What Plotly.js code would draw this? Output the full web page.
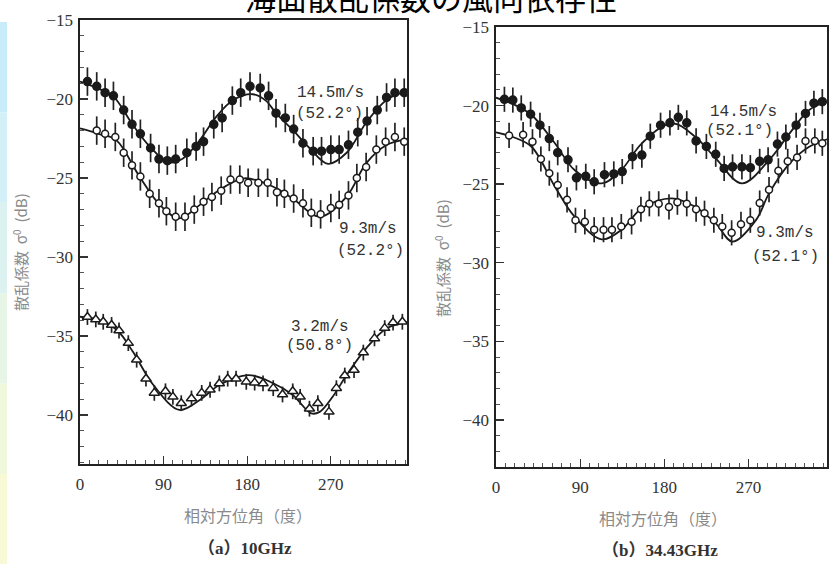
<!DOCTYPE html>
<html>
<head>
<meta charset="utf-8">
<script src="https://cdn.plot.ly/plotly-3.0.1.min.js"></script>
<style>html,body{margin:0;padding:0;background:#fff;}#chart{width:830px;height:564px;}</style>
</head>
<body>
<div id="chart"></div>
<script>
// ---------- data ----------
const chartTitle = "海面散乱係数の風向依存性";
const xTickVals = [0, 90, 180, 270];
const yTickVals = [-40, -35, -30, -25, -20, -15];

// (a) 10GHz
const a145Ang = [8,18,27,36,47,56,65,76,85,94,103,115,125,133,144,153,164,173,183,194,203,211,221,230,240,251,260,270,279,289,299,309,320,330,339,349];
const a145Val = [-18.9,-19.2,-19.6,-19.8,-20.7,-21.6,-22.2,-23.1,-23.8,-23.9,-23.8,-23.4,-23.0,-22.7,-21.6,-21.2,-20.1,-19.6,-19.2,-19.3,-19.8,-20.9,-21.2,-21.9,-22.8,-23.3,-23.3,-23.2,-23.2,-22.9,-22.1,-21.4,-20.7,-19.9,-19.6,-19.6];
const a145FitAng = [0,18,36,57,75,95,110,129,147,165,186,200,211,229,247,267,287,308,330,351,360];
const a145FitVal = [-18.9,-19.3,-19.85,-21.65,-23.0,-24.0,-23.8,-22.6,-21.1,-20.06,-19.7,-20.1,-20.9,-21.96,-23.1,-24.1,-23.4,-21.5,-20.06,-19.54,-19.5];

const a93Ang = [18,27,38,47,56,65,75,85,93,103,113,123,133,142,152,162,172,181,192,202,212,220,230,240,249,259,270,279,289,298,308,319,329,339,349,358];
const a93Val = [-22.0,-22.2,-22.4,-23.4,-24.2,-24.9,-26.0,-26.6,-27.1,-27.45,-27.45,-27.0,-26.5,-26.2,-25.8,-25.1,-25.1,-25.3,-25.3,-25.3,-25.9,-26.0,-26.3,-26.6,-27.2,-27.3,-26.9,-26.7,-26.1,-25.0,-24.3,-23.2,-22.7,-22.4,-22.7,-22.6];
const a93FitAng = [0,20,39,64,86,107,129,150,177,208,229,258,287,308,330,351,360];
const a93FitVal = [-21.86,-22.2,-22.6,-24.9,-26.7,-27.55,-26.7,-25.76,-25.02,-25.55,-26.29,-27.45,-26.18,-24.07,-22.91,-22.55,-22.5];

const a32Ang = [8,17,25,34,42,52,61,71,80,92,100,109,120,131,140,150,159,168,179,188,197,208,218,229,237,247,256,268,276,285,295,305,317,328,337,347,358];
const a32Val = [-33.8,-33.95,-34.1,-34.3,-34.65,-35.45,-36.5,-37.7,-38.6,-38.5,-38.85,-39.25,-38.95,-38.6,-38.4,-38.0,-37.7,-37.7,-37.9,-37.95,-38.0,-38.3,-38.7,-38.5,-38.85,-39.6,-39.25,-39.8,-38.3,-37.5,-37.15,-36.05,-35.15,-34.5,-34.15,-34.1,-34.1];
const a32FitAng = [0,21,41,57,79,107,129,150,181,208,229,249,258,272,287,308,330,355,360];
const a32FitVal = [-33.78,-34.0,-34.7,-36.0,-38.1,-39.68,-39.05,-38.1,-37.47,-37.99,-38.73,-39.9,-39.8,-38.84,-37.47,-35.78,-34.52,-34.09,-34.05];

// (b) 34.43GHz
const b145Ang = [9,18,27,37,47,57,66,77,86,96,105,116,126,135,146,156,165,176,186,195,204,214,225,235,244,253,263,272,282,291,301,310,321,331,340,349];
const b145Val = [-19.6,-19.65,-20.15,-20.55,-21.25,-22.1,-23.0,-23.45,-24.6,-24.5,-24.85,-24.4,-24.35,-24.2,-23.25,-23.15,-21.95,-21.25,-21.1,-20.75,-21.1,-22.25,-22.6,-23.1,-24.0,-23.9,-23.9,-23.95,-23.55,-23.45,-22.45,-22.0,-21.25,-20.5,-19.85,-19.75];
const b145FitAng = [0,18,38,63,84,113,134,156,188,213,235,263,292,314,335,358];
const b145FitVal = [-19.5,-19.9,-20.6,-22.4,-24.1,-24.95,-24.1,-22.4,-21.13,-21.98,-23.36,-24.95,-23.47,-21.77,-20.28,-19.65];

const b93Ang = [14,29,39,48,57,66,76,85,95,105,115,124,134,145,155,164,174,185,194,204,214,223,233,242,252,262,272,282,292,302,312,322,331,341,349,358];
const b93Val = [-21.9,-21.85,-22.3,-23.4,-24.3,-25.05,-26.0,-27.3,-27.4,-27.9,-27.9,-27.9,-27.7,-27.4,-26.6,-26.25,-26.25,-26.45,-26.15,-26.25,-26.6,-26.85,-27.3,-27.7,-28.1,-27.55,-27.3,-26.2,-25.35,-24.15,-23.55,-23.3,-22.25,-22.25,-22.4,-22.25];
const b93FitAng = [0,18,38,63,84,113,134,156,188,213,235,253,278,292,314,335,358];
const b93FitVal = [-21.7,-22.0,-22.62,-25.16,-27.07,-28.51,-27.92,-26.54,-25.9,-26.44,-27.5,-28.66,-27.29,-25.59,-23.68,-22.62,-22.08];

const errBig = 0.9, errMid = 0.8, errSmall = 0.5;

// ---------- helpers ----------
const W = 830, H = 564;
const px = x => x / W;
const py = y => 1 - y / H;
const INK = '#1a1a1a';

function pts(x, y, xa, ya, sym, fill, size, err) {
  return {
    type: 'scatter', mode: 'markers', x: x, y: y, xaxis: xa, yaxis: ya,
    cliponaxis: false, showlegend: false,
    marker: { symbol: sym, size: size, color: fill, line: { color: INK, width: 1.5 } },
    error_y: { type: 'constant', value: err, color: '#222', thickness: 1.7, width: 0 }
  };
}
function fit(x, y, xa, ya) {
  return {
    type: 'scatter', mode: 'lines', x: x, y: y, xaxis: xa, yaxis: ya,
    showlegend: false, line: { color: INK, width: 1.8, shape: 'spline', smoothing: 1 }
  };
}

const traces = [
  fit(a145FitAng, a145FitVal, 'x', 'y'),
  fit(a93FitAng, a93FitVal, 'x', 'y'),
  fit(a32FitAng, a32FitVal, 'x', 'y'),
  pts(a145Ang, a145Val, 'x', 'y', 'circle', INK, 8, errBig),
  pts(a93Ang, a93Val, 'x', 'y', 'circle', '#ffffff', 7, errBig),
  pts(a32Ang, a32Val, 'x', 'y', 'triangle-up', '#ffffff', 9, errSmall),
  fit(b145FitAng, b145FitVal, 'x2', 'y2'),
  fit(b93FitAng, b93FitVal, 'x2', 'y2'),
  pts(b145Ang, b145Val, 'x2', 'y2', 'circle', INK, 8, errMid),
  pts(b93Ang, b93Val, 'x2', 'y2', 'circle', '#ffffff', 7, errMid)
];

const tickFont = { family: 'Liberation Serif, DejaVu Serif, serif', size: 17, color: '#333' };
function xax(domain, range, anchor) {
  return {
    domain: domain, range: range, anchor: anchor,
    tickmode: 'array', tickvals: xTickVals,
    ticks: 'inside', ticklen: 8, tickwidth: 1.3, tickcolor: '#333',
    minor: { tickmode: 'linear', tick0: 0, dtick: 10, ticks: 'inside', ticklen: 4, tickwidth: 1, tickcolor: '#555' },
    showline: true, mirror: true, linecolor: '#222', linewidth: 1.6,
    showgrid: false, zeroline: false, tickfont: tickFont, ticklabelstandoff: 4
  };
}
function yax(domain, range, anchor) {
  return {
    domain: domain, range: range, anchor: anchor,
    tickmode: 'array', tickvals: yTickVals,
    ticks: 'inside', ticklen: 8, tickwidth: 1.3, tickcolor: '#333',
    minor: { tickmode: 'linear', tick0: -15, dtick: 1, ticks: 'inside', ticklen: 4, tickwidth: 1, tickcolor: '#555' },
    showline: true, mirror: true, linecolor: '#222', linewidth: 1.6,
    showgrid: false, zeroline: false, tickfont: tickFont, ticklabelstandoff: 2
  };
}

function note(text, x, y, opts) {
  return Object.assign({
    text: text, xref: 'paper', yref: 'paper', x: px(x), y: py(y),
    xanchor: 'center', yanchor: 'middle', showarrow: false,
    font: { family: 'Liberation Mono, DejaVu Sans Mono, monospace', size: 16, color: '#333' }
  }, opts || {});
}
const cjkFont = { family: 'Noto Sans CJK JP, sans-serif', size: 16, color: '#8a8a8a' };
const subFont = { family: 'Liberation Serif, Noto Sans CJK JP, serif', size: 17, color: '#333' };
const yTitleFont = { family: 'Noto Sans CJK JP, sans-serif', size: 15, color: '#8a8a8a' };
const yTitle = '散乱係数&nbsp;&nbsp;σ<sup>0</sup>&nbsp;&nbsp;(dB)';

const annotations = [
  note(chartTitle, 431, -4, { font: { family: 'Noto Sans CJK JP, sans-serif', size: 31, color: '#000' } }),
  note('14.5m/s', 330, 93), note('(52.2°)', 329, 114),
  note('9.3m/s', 368, 229), note('(52.2°)', 370, 251),
  note('3.2m/s', 320, 327), note('(50.8°)', 319, 346),
  note('14.5m/s', 743, 112), note('(52.1°)', 739, 131),
  note('9.3m/s', 785, 233), note('(52.1°)', 785, 257),
  note('相対方位角（度）', 248, 515, { font: cjkFont }),
  note('相対方位角（度）', 663, 518, { font: cjkFont }),
  note('<b>（a）10GHz</b>', 245, 548, { font: subFont }),
  note('<b>（b）34.43GHz</b>', 660, 550, { font: subFont }),
  note(yTitle, 20, 252, { textangle: -90, font: yTitleFont }),
  note(yTitle, 442, 258, { textangle: -90, font: yTitleFont })
];

// soft scan strip on the left edge
const stripCols = ['#c9ecfb', '#d3f0f8', '#dcf2f0', '#e6f5e6', '#f0f8dc', '#f8fad6'];
const shapes = stripCols.map((c, i) => ({
  type: 'rect', xref: 'paper', yref: 'paper', layer: 'below',
  x0: 0, x1: px(7), y0: py(22 + (i + 1) * 90.4), y1: py(22 + i * 90.4),
  fillcolor: c, line: { width: 0 }
}));

const layout = {
  width: W, height: H,
  margin: { l: 0, r: 0, t: 0, b: 0, pad: 0 },
  paper_bgcolor: '#fff', plot_bgcolor: '#fff',
  showlegend: false,
  xaxis: xax([px(80), px(407)], [0, 352], 'y'),
  yaxis: yax([py(464), py(20)], [-43.1, -15], 'x'),
  xaxis2: xax([px(496), px(827)], [0, 354], 'y2'),
  yaxis2: yax([py(467), py(27)], [-43, -15], 'x2'),
  annotations: annotations,
  shapes: shapes
};

Plotly.newPlot('chart', traces, layout, { staticPlot: true });
</script>
</body>
</html>
